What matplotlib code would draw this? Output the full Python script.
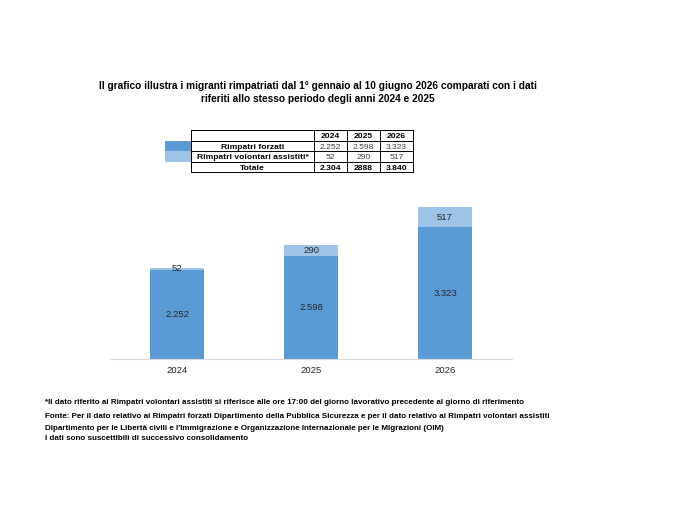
import matplotlib
matplotlib.use("Agg")
import matplotlib.pyplot as plt
from matplotlib.patches import Rectangle

plt.rcParams['font.family'] = ['Liberation Sans', 'DejaVu Sans']

# data
years = ["2024", "2025", "2026"]
forzati = [2252, 2598, 3323]
volontari = [52, 290, 517]
totale_labels = ["2.304", "2888", "3.840"]
row_names = ["Rimpatri forzati", "Rimpatri volontari assistiti*", "Totale"]

dark = "#5b9bd5"
light = "#9dc3e6"
txt = "#262626"


def it_fmt(v):
    return f"{v:,}".replace(",", ".")


W, H = 680, 528
fig = plt.figure(figsize=(W / 100, H / 100), dpi=100)

# chart area
ax = fig.add_axes([110 / W, 169 / H, 402 / W, 164 / H])
x = list(range(len(years)))
b1 = ax.bar(x, forzati, width=0.4, color=dark)
b2 = ax.bar(x, volontari, width=0.4, bottom=forzati, color=light)
ax.bar_label(b1, labels=[it_fmt(v) for v in forzati], label_type="center",
             fontsize=6.8, color=txt)
ax.bar_label(b2, labels=[it_fmt(v) for v in volontari], label_type="center",
             fontsize=6.8, color=txt)
ax.set_xlim(-0.5, 2.5)
ax.set_ylim(0, 3840 * 164 / 152)
ax.set_xticks(x)
ax.set_xticklabels(years, fontsize=6.8, color=txt)
ax.tick_params(axis="x", length=0, pad=5)
ax.set_yticks([])
for s in ["top", "left", "right"]:
    ax.spines[s].set_visible(False)
ax.spines["bottom"].set_color("#d9d9d9")
ax.spines["bottom"].set_linewidth(0.8)

# page overlay in pixel coordinates for title, table and notes
pg = fig.add_axes([0, 0, 1, 1], zorder=-1)
pg.set_xlim(0, W)
pg.set_ylim(H, 0)
pg.axis("off")

pg.text(318, 86, "Il grafico illustra i migranti rimpatriati dal 1° gennaio al 10 giugno 2026 "
        "comparati con i dati", ha="center", va="center", fontsize=7.25,
        fontweight="bold", color="black")
pg.text(318, 99, "riferiti allo stesso periodo degli anni 2024 e 2025", ha="center",
        va="center", fontsize=7.25, fontweight="bold", color="black")

# table
col_x = [191, 314, 347, 380, 413]
row_y = [129.5, 140.5, 151, 161.5, 172]
pg.add_patch(Rectangle((165, row_y[1]), 26, row_y[2] - row_y[1], color=dark, lw=0))
pg.add_patch(Rectangle((165, row_y[2]), 26, row_y[3] - row_y[2], color=light, lw=0))
for yy in row_y:
    pg.plot([col_x[0], col_x[-1]], [yy, yy], color="black", lw=0.7)
for xx in col_x:
    pg.plot([xx, xx], [row_y[0], row_y[-1]], color="black", lw=0.7)

tfs = 6.1
for j, yr in enumerate(years):
    cx = (col_x[j + 1] + col_x[j + 2]) / 2
    pg.text(cx, (row_y[0] + row_y[1]) / 2 + 0.5, yr, ha="center", va="center_baseline",
            fontsize=tfs, fontweight="bold", color="black")
    pg.text(cx, (row_y[1] + row_y[2]) / 2 + 0.5, it_fmt(forzati[j]), ha="center",
            va="center_baseline", fontsize=tfs, color="#404040")
    pg.text(cx, (row_y[2] + row_y[3]) / 2 + 0.5, it_fmt(volontari[j]), ha="center",
            va="center_baseline", fontsize=tfs, color="#404040")
    pg.text(cx, (row_y[3] + row_y[4]) / 2 + 0.5, totale_labels[j], ha="center",
            va="center_baseline", fontsize=tfs, fontweight="bold", color="black")
lx = (col_x[0] + col_x[1]) / 2
for i, name in enumerate(row_names):
    pg.text(lx, (row_y[i + 1] + row_y[i + 2]) / 2 + 0.5, name, ha="center",
            va="center_baseline", fontsize=tfs, fontweight="bold", color="black")

# notes
notes = [
    (402, "*Il dato riferito ai Rimpatri volontari assistiti si riferisce alle ore 17:00 "
          "del giorno lavorativo precedente al giorno di riferimento"),
    (417, "Fonte: Per il dato relativo ai Rimpatri forzati Dipartimento della Pubblica "
          "Sicurezza e per il dato relativo ai Rimpatri volontari assistiti"),
    (428, "Dipartimento per le Libertà civili e l'Immigrazione e Organizzazione "
          "Internazionale per le Migrazioni (OIM)"),
    (439, "I dati sono suscettibili di successivo consolidamento"),
]
for yy, s in notes:
    pg.text(45, yy, s, ha="left", va="center", fontsize=5.75, fontweight="bold",
            color="black")

fig.savefig("out.png", dpi=100)
